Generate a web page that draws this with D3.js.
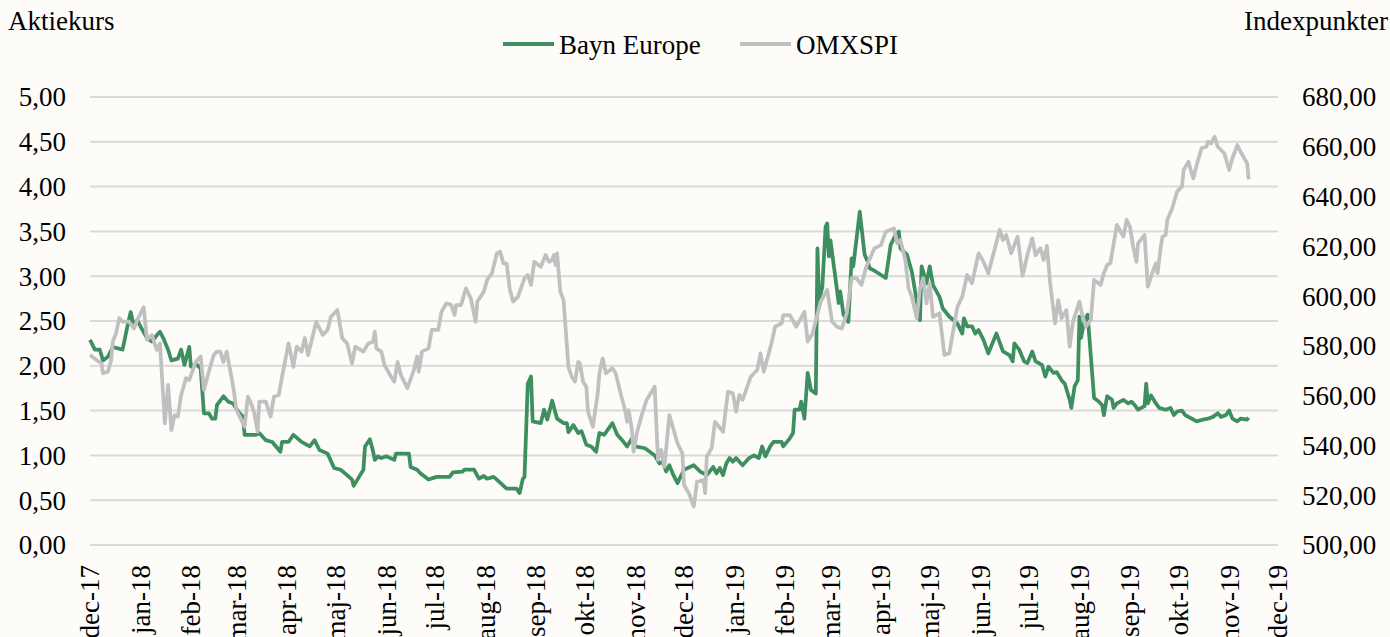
<!DOCTYPE html>
<html>
<head>
<meta charset="utf-8">
<script src="https://cdn.jsdelivr.net/npm/d3@7"></script>
<style>
  html, body { margin: 0; padding: 0; background: #fdfcf9; }
  svg { display: block; }
  text { font-family: "Liberation Serif", "Times New Roman", serif; fill: #000; }
</style>
</head>
<body>
<svg id="chart" width="1390" height="637"></svg>
<script>
// day offsets are counted from 1 Dec 2017
const baynDays = [0,3,6,8,11,14,20,23,25,27,29,31,35,38,41,43,45,48,50,54,56,58,61,62,66,68,70,73,75,77,78,82,85,88,91,94,95,102,104,108,112,117,118,122,125,130,135,138,141,146,150,154,158,161,162,166,168,169,172,174,175,177,179,182,187,188,196,197,201,203,208,213,221,223,229,230,236,239,242,244,248,250,256,262,264,266,267,269,271,272,277,279,281,284,287,291,293,294,297,300,302,305,308,311,313,316,321,324,327,330,333,335,341,344,347,350,352,354,356,358,361,365,371,375,377,379,383,385,387,389,391,393,395,397,401,405,408,411,413,415,418,420,425,426,430,432,433,436,437,439,441,443,446,447,448,450,452,453,454,455,459,460,461,463,466,468,469,473,476,478,479,483,489,492,495,497,498,502,505,510,511,514,516,518,522,524,528,533,536,537,539,542,544,546,549,552,557,561,565,567,568,571,574,576,579,581,585,587,589,592,594,597,599,602,603,605,607,608,609,611,613,617,620,622,623,625,628,629,631,635,638,640,642,644,648,649,650,652,655,657,661,664,666,668,671,673,677,680,684,687,690,693,695,698,700,702,705,707,711,712]
const baynValues = [2.29,2.18,2.18,2.06,2.10,2.21,2.18,2.44,2.60,2.44,2.51,2.44,2.31,2.27,2.34,2.38,2.31,2.18,2.06,2.08,2.18,2.01,2.21,1.99,2.01,1.97,1.47,1.47,1.41,1.41,1.56,1.66,1.60,1.58,1.49,1.43,1.23,1.23,1.25,1.17,1.15,1.04,1.15,1.15,1.23,1.15,1.10,1.17,1.06,1.02,0.86,0.84,0.78,0.73,0.66,0.78,0.84,1.10,1.18,1.04,0.95,0.99,0.97,0.99,0.95,1.02,1.02,0.87,0.84,0.80,0.73,0.76,0.76,0.81,0.82,0.84,0.84,0.74,0.77,0.74,0.76,0.73,0.63,0.63,0.58,0.74,0.76,1.80,1.88,1.38,1.36,1.51,1.40,1.61,1.41,1.36,1.36,1.26,1.34,1.25,1.27,1.12,1.10,1.04,1.25,1.23,1.36,1.23,1.17,1.10,1.19,1.10,1.08,1.04,1.00,0.91,0.93,0.82,0.89,0.80,0.69,0.84,0.89,0.82,0.80,0.78,0.87,0.80,0.86,0.78,0.91,0.97,0.93,0.97,0.89,0.97,1.00,0.97,1.10,0.99,1.10,1.15,1.15,1.10,1.19,1.25,1.51,1.51,1.60,1.41,1.92,1.73,1.69,3.31,2.73,2.88,3.55,3.59,3.22,3.40,2.85,2.70,2.83,2.57,2.49,3.20,3.11,3.72,3.24,3.16,3.09,3.05,2.98,3.35,3.46,3.50,3.31,3.24,3.05,2.51,3.11,2.92,3.11,2.90,2.77,2.64,2.55,2.47,2.36,2.53,2.44,2.44,2.36,2.40,2.29,2.14,2.36,2.16,2.12,2.05,2.25,2.18,2.05,2.03,2.16,2.05,2.01,1.88,1.99,1.92,1.93,1.84,1.80,1.62,1.53,1.77,1.84,2.55,2.31,2.51,2.57,1.64,1.60,1.56,1.45,1.66,1.62,1.53,1.58,1.62,1.58,1.60,1.56,1.51,1.55,1.80,1.58,1.67,1.58,1.53,1.51,1.53,1.45,1.49,1.50,1.45,1.41,1.38,1.40,1.41,1.43,1.47,1.43,1.45,1.50,1.41,1.38,1.41,1.40,1.42]

const omxDays = [0,4,7,8,11,13,14,16,18,20,24,27,30,33,35,38,41,43,46,48,50,52,54,56,59,61,65,68,70,73,76,78,80,82,84,88,90,92,95,97,99,101,103,104,108,111,113,116,118,122,125,127,130,132,134,139,143,146,148,152,155,158,161,163,168,171,174,175,176,179,181,185,187,189,191,195,199,201,202,204,208,210,214,216,219,222,224,225,228,231,234,237,238,242,244,247,250,252,254,256,258,260,263,267,269,271,273,277,280,282,284,285,286,287,289,291,294,296,298,300,301,303,305,306,309,312,313,315,317,321,323,326,329,330,331,333,334,336,339,342,347,349,351,353,356,361,364,365,368,371,373,377,378,379,382,384,389,392,395,397,399,401,406,410,412,414,419,421,425,426,430,434,439,441,444,449,453,456,459,462,465,468,471,474,477,482,486,489,494,496,498,501,503,505,508,510,512,514,516,518,522,525,528,533,536,539,542,546,549,552,559,561,563,566,570,573,576,579,581,584,586,588,590,593,595,597,600,602,604,608,610,612,615,617,621,623,625,627,631,635,637,639,641,643,644,648,650,653,655,656,658,659,661,662,665,668,671,672,675,677,678,680,683,686,687,689,691,693,697,700,702,705,707,711,712]
const omxValues = [576.3,574.3,573.0,569.0,569.6,574.3,581.7,585.0,591.1,589.7,589.7,587.0,591.7,595.5,582.4,584.4,578.4,581.0,548.9,564.3,546.2,552.2,551.6,560.3,567.0,566.3,573.6,575.7,562.3,569.6,576.3,577.7,577.7,573.6,577.7,563.6,554.2,551.6,547.5,559.6,556.9,552.9,545.5,557.6,557.6,551.6,559.6,560.3,567.6,581.0,571.6,579.7,577.7,583.1,576.3,589.7,584.4,586.4,591.7,594.4,583.1,581.0,573.0,579.7,577.7,581.0,581.7,585.7,579.0,577.7,572.3,567.6,565.6,573.6,568.3,563.0,570.3,575.7,569.6,577.7,579.0,586.4,586.4,593.7,597.1,596.4,592.4,596.4,596.4,603.1,599.1,589.7,597.8,601.8,606.5,609.2,617.2,617.9,613.2,613.2,602.5,597.8,599.8,607.2,608.5,604.5,613.8,611.8,616.5,613.8,614.5,616.5,612.5,617.2,601.8,598.4,571.6,567.6,565.6,573.6,573.0,565.6,563.6,553.6,547.5,561.0,569.0,575.0,569.0,571.0,569.0,561.0,553.6,549.5,554.2,546.2,537.5,544.9,552.2,558.3,563.6,534.2,538.2,531.5,552.2,540.9,536.8,524.1,520.8,515.4,525.4,526.1,520.8,535.5,538.9,549.5,545.5,561.6,561.0,553.6,560.3,558.3,567.6,570.3,577.0,569.6,581.7,587.7,589.1,592.4,592.4,587.7,593.7,581.7,585.0,597.8,602.5,589.7,587.7,587.0,593.1,607.2,607.2,604.5,611.8,619.2,620.5,625.9,627.2,621.2,622.5,614.5,603.1,599.8,591.1,603.1,607.2,597.1,605.2,591.7,593.1,576.3,577.0,595.7,599.8,608.5,605.2,617.2,613.8,609.2,626.6,622.5,624.6,617.2,623.9,608.2,616.5,623.2,616.5,619.2,614.5,620.2,605.2,589.1,598.4,591.1,594.4,579.7,589.7,597.8,591.7,587.7,590.4,606.5,604.5,609.2,612.5,613.2,628.6,623.9,630.6,627.9,619.9,613.8,621.2,624.6,603.8,609.8,613.2,609.2,619.9,623.9,624.6,630.6,635.3,642.0,644.0,650.7,654.0,649.3,647.3,652.7,659.4,660.0,662.0,661.4,664.0,660.0,657.4,650.7,655.4,660.7,658.0,653.4,646.9]

const monthNames = ["jan","feb","mar","apr","maj","jun","jul","aug","sep","okt","nov","dec"]
const leftTicks = [0, 0.5, 1, 1.5, 2, 2.5, 3, 3.5, 4, 4.5, 5]
const rightTicks = [500, 520, 540, 560, 580, 600, 620, 640, 660, 680]

const start = new Date(2017, 11, 1)
const end = new Date(2019, 11, 1)

const svg = d3.select("#chart")
const fmt = v => d3.format(".2f")(v).replace(".", ",")

const x = d3.scaleTime().domain([start, end]).range([90, 1278])
const yLeft = d3.scaleLinear().domain([0, 5]).range([545, 97])
const yRight = d3.scaleLinear().domain([500, 680]).range([545, 97])

// gridlines
svg.append("g")
  .selectAll("line")
  .data(leftTicks)
  .join("line")
  .attr("x1", x.range()[0])
  .attr("x2", x.range()[1])
  .attr("y1", d => yLeft(d))
  .attr("y2", d => yLeft(d))
  .attr("stroke", "#d9d9d9")
  .attr("stroke-width", 2)

// left axis labels
svg.append("g")
  .selectAll("text")
  .data(leftTicks)
  .join("text")
  .attr("x", 66)
  .attr("y", d => yLeft(d))
  .attr("dy", "0.35em")
  .attr("text-anchor", "end")
  .attr("font-size", 27)
  .text(fmt)

// right axis labels
svg.append("g")
  .selectAll("text")
  .data(rightTicks)
  .join("text")
  .attr("x", 1302)
  .attr("y", d => yRight(d))
  .attr("dy", "0.35em")
  .attr("font-size", 27)
  .text(fmt)

// month labels
const months = d3.timeMonth.range(start, d3.timeDay.offset(end, 1))
svg.append("g")
  .selectAll("text")
  .data(months)
  .join("text")
  .attr("transform", d => `translate(${x(d)},565) rotate(-90)`)
  .attr("dy", "0.35em")
  .attr("text-anchor", "end")
  .attr("font-size", 27)
  .text(d => monthNames[d.getMonth()] + "-" + String(d.getFullYear()).slice(2))

// axis titles
svg.append("text").attr("x", 8).attr("y", 30).attr("font-size", 27).text("Aktiekurs")
svg.append("text").attr("x", 1388).attr("y", 30).attr("text-anchor", "end").attr("font-size", 27).text("Indexpunkter")

// lines
const bayn = baynDays.map((d, i) => ({ date: d3.timeDay.offset(start, d), value: baynValues[i] }))
const omx = omxDays.map((d, i) => ({ date: d3.timeDay.offset(start, d), value: omxValues[i] }))

const green = "#3d8f5f"
const grey = "#c0c0c0"

svg.append("path")
  .datum(bayn)
  .attr("fill", "none")
  .attr("stroke", green)
  .attr("stroke-width", 3.75)
  .attr("stroke-linejoin", "round")
  .attr("d", d3.line().x(d => x(d.date)).y(d => yLeft(d.value)))

svg.append("path")
  .datum(omx)
  .attr("fill", "none")
  .attr("stroke", grey)
  .attr("stroke-width", 3.75)
  .attr("stroke-linejoin", "round")
  .attr("d", d3.line().x(d => x(d.date)).y(d => yRight(d.value)))

// legend
const legend = svg.append("g")
const items = [
  { name: "Bayn Europe", color: green, x: 503 },
  { name: "OMXSPI", color: grey, x: 740 }
]
items.forEach(it => {
  legend.append("line")
    .attr("x1", it.x).attr("x2", it.x + 51)
    .attr("y1", 44).attr("y2", 44)
    .attr("stroke", it.color)
    .attr("stroke-width", 4)
  legend.append("text")
    .attr("x", it.x + 56)
    .attr("y", 54)
    .attr("font-size", 27)
    .text(it.name)
})
</script>
</body>
</html>
